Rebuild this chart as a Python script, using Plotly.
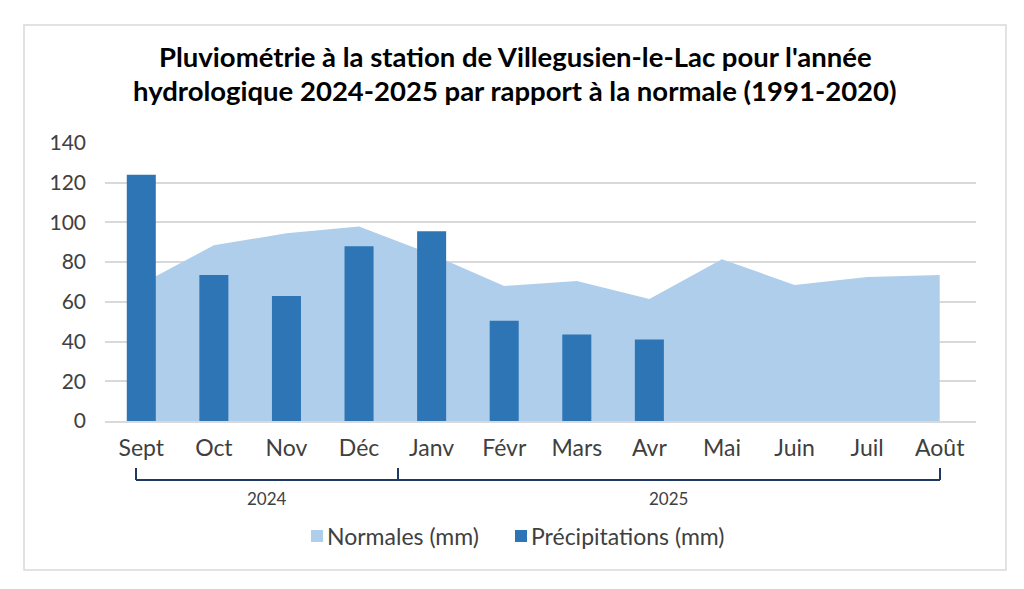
import plotly.graph_objects as go

months = ["Sept", "Oct", "Nov", "Déc", "Janv", "Févr", "Mars", "Avr", "Mai", "Juin", "Juil", "Août"]
normales = [69, 88.5, 94.5, 98, 84, 68, 70.5, 61.5, 81.5, 68.5, 72.5, 73.5]
precipitations = [124, 73.5, 63, 88, 95.5, 50.5, 43.5, 41, None, None, None, None]
y_ticks = [0, 20, 40, 60, 80, 100, 120, 140]
year_labels = ["2024", "2025"]
title_lines = ["Pluviométrie à la station de Villegusien-le-Lac pour l'année",
               "hydrologique 2024-2025 par rapport à la normale (1991-2020)"]

FONT = "Lato"
TEXT = "#404040"
LIGHT = "#AFCEEB"
DARK = "#2E75B6"
BRACKET = "#1F3864"
GRID = "#D9D9D9"

# the page has an 8px body margin, so the figure is made smaller and shifted
OFFSET = 8
W = 1024 - OFFSET
H = 589 - OFFSET
LEFT, RIGHT, TOP, BOTTOM = 105, 976, 143, 421


def px(x):
    return (x - LEFT) / (RIGHT - LEFT)


def py(y):
    return (BOTTOM - y) / (BOTTOM - TOP)


def label(text, x, y, size, color=TEXT, xanchor="center"):
    fig.add_annotation(text=text, xref="paper", yref="paper", x=px(x), y=py(y),
                       xanchor=xanchor, yanchor="middle", showarrow=False,
                       font=dict(size=size, color=color, family=FONT))


fig = go.Figure()

fig.add_trace(go.Scatter(
    x=list(range(12)), y=normales, name="Normales (mm)",
    mode="lines", line=dict(width=0, color=LIGHT),
    fill="tozeroy", fillcolor=LIGHT, showlegend=False,
))
# on an overlaying axis so the bars are drawn over the area
fig.add_trace(go.Bar(
    x=list(range(12)), y=precipitations, name="Précipitations (mm)",
    marker=dict(color=DARK, line=dict(width=0)), width=0.4, showlegend=False,
    yaxis="y2",
))

fig.update_layout(
    width=W, height=H,
    margin=dict(l=LEFT - OFFSET, r=W + OFFSET - RIGHT, t=TOP - OFFSET, b=H + OFFSET - BOTTOM, pad=0),
    paper_bgcolor="white", plot_bgcolor="rgba(0,0,0,0)",
    font=dict(family=FONT, color=TEXT),
    showlegend=False,
    xaxis=dict(
        range=[-0.5, 11.5],
        tickvals=list(range(12)), ticktext=months,
        tickfont=dict(size=23, color=TEXT), ticks="", ticklabelstandoff=6,
        showgrid=False, showline=True, linecolor=GRID, linewidth=1.5, zeroline=False,
    ),
    yaxis=dict(
        range=[0, 140],
        tickvals=y_ticks, tickfont=dict(size=21, color=TEXT), ticks="", ticklabelstandoff=18,
        showgrid=True, gridcolor=GRID, gridwidth=1.5, showline=False, zeroline=False,
    ),
    yaxis2=dict(range=[0, 140], overlaying="y", visible=False),
)

# frame around the chart
fig.add_shape(type="rect", xref="paper", yref="paper", x0=px(24), x1=px(1006),
              y0=py(570), y1=py(25), line=dict(color=GRID, width=1.5))

# title, one annotation per line to get the tighter line spacing
label("<b>" + title_lines[0] + "</b>", 515, 57, 27.5, color="black")
label("<b>" + title_lines[1] + "</b>", 515, 90, 27.5, color="black")

# year brackets below the months
for x0, y0, x1, y1 in [(136, 480, 940, 480), (136, 468, 136, 480), (398, 468, 398, 480), (940, 468, 940, 480)]:
    fig.add_shape(type="line", xref="paper", yref="paper",
                  x0=px(x0), x1=px(x1), y0=py(y0), y1=py(y1),
                  line=dict(color=BRACKET, width=2))

label(year_labels[0], 267, 498, 17)
label(year_labels[1], 668, 498, 17)

# legend drawn by hand so it sits like the original
for sx, col, name, tx in [(311, LIGHT, "Normales (mm)", 325), (515, DARK, "Précipitations (mm)", 529)]:
    fig.add_shape(type="rect", xref="paper", yref="paper", x0=px(sx), x1=px(sx + 12),
                  y0=py(542), y1=py(530), fillcolor=col, line=dict(width=0))
    label(name, tx, 536, 23, xanchor="left")

fig.write_html("out.html")
